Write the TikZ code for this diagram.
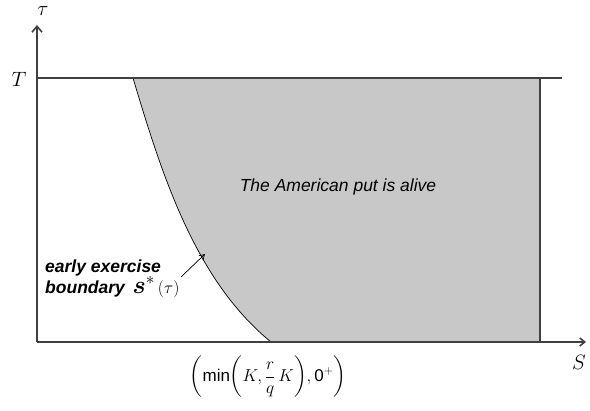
\documentclass[tikz,border=0pt]{standalone}
\usepackage{amsmath}
\usepackage{bm}
\usepackage{fontspec}
\newfontfamily\arialfont{Liberation Sans}
\usetikzlibrary{arrows.meta}
\definecolor{linegray}{HTML}{404040}
\definecolor{fillgray}{HTML}{C8C8C8}
\tikzset{
  axis/.style={draw=linegray, line width=1.6pt},
  frameline/.style={draw=linegray, line width=1.6pt},
  boundary/.style={draw=black, line width=0.7pt},
  lbl/.style={inner sep=0pt, font=\arialfont\bfseries\itshape\fontsize{17.5}{21}\selectfont, align=left},
}
\begin{document}
\begin{tikzpicture}[x=1pt,y=-1pt]
\useasboundingbox (0,0) rectangle (590,411);
% shaded region
\fill[fillgray] (133,78) .. controls (162,175) and (195,280) .. (271,342) -- (540,342) -- (540,78) -- cycle;
\draw[boundary] (133,78) .. controls (162,175) and (195,280) .. (271,342);
% coordinates
\coordinate (O) at (37,342);
\coordinate (Ytop) at (37,25);
\coordinate (Xend) at (586,342);
\coordinate (TL) at (37,78);
\coordinate (TR) at (562,78);
\coordinate (RB) at (540,342);
\coordinate (RT) at (540,78);
\draw[axis, -{Straight Barb[length=6pt,width=10pt]}] (O) -- (Ytop);
\draw[axis, -{Straight Barb[length=5pt,width=8pt]}] (O) -- (Xend);
\draw[frameline] (TL) -- (TR);
\draw[frameline] (RB) -- (RT);
% labels
\node[inner sep=0pt] (tau) at (43,11) {\fontsize{22}{22}\selectfont$\tau$};
\node[inner sep=0pt] (Tlab) at (19,79) {\fontsize{22}{22}\selectfont$T$};
\node[inner sep=0pt] (Slab) at (579,362) {\fontsize{22}{22}\selectfont$S$};
\node[inner sep=0pt, font=\arialfont\itshape\fontsize{17.5}{19}\selectfont] (alive) at (338,187) {The American put is alive};
\node[lbl, anchor=north west] (early) at (45,260) {early exercise\\boundary\;\,{\fontsize{24}{24}\selectfont$\bm{s}^{*}$}\,{\fontsize{16}{16}\selectfont$(\tau)$}};
\coordinate (arrtip) at (205,254);
\coordinate (arrtail) at (181,277);
\draw[black, line width=0.7pt, -{Straight Barb[length=5pt,width=6pt]}] (arrtail) -- (arrtip);
\node[inner sep=0pt] (minlab) at (268,377) {\fontsize{17}{17}\selectfont$\displaystyle\left(\text{\arialfont min}\!\left(K,\frac{r}{q}\,K\right)\!,\text{\arialfont 0}^{+}\right)$};
\end{tikzpicture}
\end{document}
